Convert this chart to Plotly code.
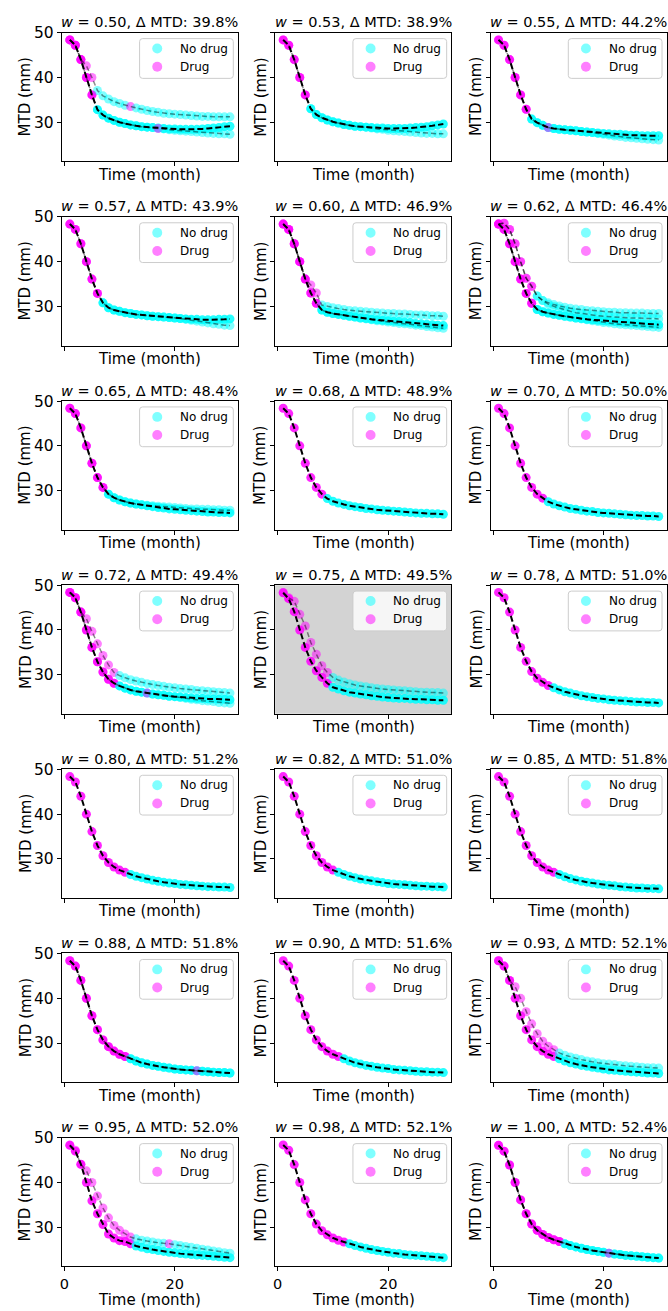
import plotly.graph_objects as go

# ---------------- data ----------------
W_VALUES = [0.50, 0.53, 0.55, 0.57, 0.60, 0.62, 0.65, 0.68, 0.70, 0.72, 0.75,
            0.78, 0.80, 0.82, 0.85, 0.88, 0.90, 0.93, 0.95, 0.98, 1.00]
DELTA_MTD = [39.8, 38.9, 44.2, 43.9, 46.9, 46.4, 48.4, 48.9, 50.0, 49.4, 49.5,
             51.0, 51.2, 51.0, 51.8, 51.8, 51.6, 52.1, 52.0, 52.1, 52.4]
MONTHS = list(range(1, 31))
HIGHLIGHT_W = 0.75
X_TICKS = [0, 20]
Y_TICKS = [30, 40, 50]
LEGEND_LABELS = ["No drug", "Drug"]

P = [48.4, 47.2, 44.0, 40.0, 36.1]

S01_MAIN = P + [32.8, 31.6, 30.9, 30.4, 30.0, 29.7, 29.4, 29.2, 29.0, 28.9, 28.8, 28.7, 28.6, 28.5, 28.5,
                28.4, 28.4, 28.4, 28.4, 28.5, 28.6, 28.7, 28.8, 29.0, 29.1]
S01_MAIN_DRUG = [1, 2, 3, 4, 5]
S01_ALT = [
    [48.4, 47.2, 44.0, 42.6, 40.0, 37.1, 35.9, 35.2, 34.6, 34.2, 33.8, 33.5, 33.2, 32.9, 32.6,
     32.4, 32.2, 32.0, 31.9, 31.8, 31.7, 31.6, 31.5, 31.4, 31.3, 31.3, 31.2, 31.2, 31.2, 31.2],
    P + [32.8, 31.6, 30.9, 30.4, 30.0, 29.7, 29.4, 29.2, 29.0, 28.9, 28.8, 28.6, 28.5, 28.3, 28.2,
         28.1, 28.0, 27.9, 27.8, 27.7, 27.6, 27.5, 27.4, 27.4, 27.3],
]
S01_ALT_DRUG = [[1, 2, 3, 4, 5, 12], [1, 2, 3, 4, 5, 17]]

S02_MAIN = P + [33.0, 31.7, 31.0, 30.5, 30.1, 29.8, 29.5, 29.3, 29.1, 29.0, 28.9, 28.8, 28.7, 28.7, 28.6,
                28.6, 28.6, 28.6, 28.7, 28.8, 28.9, 29.0, 29.2, 29.4, 29.6]
S02_MAIN_DRUG = [1, 2, 3, 4, 5]
S02_ALT = [
    P + [33.0, 31.7, 31.0, 30.5, 30.1, 29.8, 29.5, 29.3, 29.1, 29.0, 28.9, 28.7, 28.5, 28.4, 28.2,
         28.1, 28.0, 27.9, 27.8, 27.7, 27.6, 27.5, 27.5, 27.4, 27.4],
]
S02_ALT_DRUG = [[1, 2, 3, 4, 5]]

S03_MAIN = P + [32.9, 30.7, 29.9, 29.3, 28.8, 28.6, 28.4, 28.3, 28.2, 28.1, 27.9, 27.8, 27.7, 27.6, 27.5,
                27.4, 27.3, 27.3, 27.2, 27.1, 27.1, 27.0, 27.0, 27.0, 27.0]
S03_MAIN_DRUG = [1, 2, 3, 4, 5, 6]
S03_ALT = [
    P + [32.9, 30.7, 29.9, 29.3, 28.8, 28.6, 28.4, 28.3, 28.2, 28.1, 27.9, 27.8, 27.7, 27.5, 27.3,
         27.1, 26.9, 26.8, 26.6, 26.5, 26.4, 26.3, 26.2, 26.1, 26.0],
]
S03_ALT_DRUG = [[1, 2, 3, 4, 5, 6, 10]]

S04_MAIN = P + [32.9, 30.8, 29.7, 29.2, 28.9, 28.6, 28.4, 28.2, 28.1, 27.9, 27.8, 27.7, 27.6, 27.5, 27.4,
                27.3, 27.2, 27.1, 27.1, 27.0, 27.0, 27.0, 27.1, 27.1, 27.2]
S04_MAIN_DRUG = [1, 2, 3, 4, 5, 6]
S04_ALT = [
    P + [32.9, 30.8, 29.7, 29.2, 28.9, 28.6, 28.4, 28.2, 28.1, 27.9, 27.8, 27.7, 27.6, 27.5, 27.4,
         27.3, 27.1, 26.9, 26.7, 26.5, 26.3, 26.1, 26.0, 25.8, 25.7],
]
S04_ALT_DRUG = [[1, 2, 3, 4, 5, 6]]

S05_MAIN = P + [33.0, 30.7, 29.2, 28.7, 28.4, 28.2, 28.0, 27.8, 27.6, 27.4, 27.3, 27.1, 27.0, 26.9, 26.8,
                26.7, 26.6, 26.5, 26.4, 26.2, 26.1, 26.0, 25.9, 25.8, 25.7]
S05_MAIN_DRUG = [1, 2, 3, 4, 5, 6, 7]
S05_ALT = [
    P + [34.8, 33.0, 30.3, 30.0, 29.7, 29.5, 29.3, 29.1, 29.0, 28.9, 28.8, 28.7, 28.6, 28.5, 28.4,
         28.4, 28.3, 28.3, 28.2, 28.1, 28.1, 28.0, 27.9, 27.9, 27.8],
    P + [33.0, 30.7, 29.2, 28.7, 28.4, 28.2, 28.0, 27.8, 27.6, 27.4, 27.2, 27.0, 26.8, 26.7, 26.5,
         26.4, 26.2, 26.1, 26.0, 25.8, 25.7, 25.5, 25.4, 25.2, 25.1],
]
S05_ALT_DRUG = [[1, 2, 3, 4, 5, 6, 7], [1, 2, 3, 4, 5, 6, 7]]

S06_MAIN = P + [32.9, 30.7, 29.3, 28.8, 28.5, 28.2, 28.0, 27.8, 27.6, 27.4, 27.3, 27.1, 27.0, 26.9, 26.8,
                26.7, 26.6, 26.5, 26.4, 26.3, 26.2, 26.1, 26.0, 26.0, 25.9]
S06_MAIN_DRUG = [1, 2, 3, 4, 5, 6, 7]
S06_ALT = [
    [48.4, 48.6, 47.2, 44.0, 40.0, 36.3, 34.5, 32.3, 31.3, 30.8, 30.4, 30.1, 29.8, 29.6, 29.4,
     29.3, 29.1, 29.0, 28.9, 28.8, 28.7, 28.7, 28.6, 28.6, 28.5, 28.5, 28.5, 28.4, 28.4, 28.4],
    [48.4, 48.6, 47.2, 44.0, 40.0, 36.3, 34.5, 32.3, 31.3, 30.5, 30.0, 29.6, 29.2, 28.9, 28.6,
     28.4, 28.2, 28.0, 27.9, 27.8, 27.7, 27.6, 27.5, 27.5, 27.4, 27.4, 27.3, 27.3, 27.3, 27.2],
    P + [32.9, 30.7, 29.3, 28.8, 28.5, 28.2, 28.0, 27.8, 27.6, 27.4, 27.2, 27.0, 26.8, 26.6, 26.4,
         26.3, 26.1, 26.0, 25.9, 25.8, 25.7, 25.6, 25.5, 25.4, 25.3],
]
S06_ALT_DRUG = [[1, 2, 3, 4, 5, 6, 7], [1, 2, 3, 4, 5, 6, 7], [1, 2, 3, 4, 5, 6, 7]]

S07_MAIN = P + [32.9, 30.7, 29.2, 28.4, 27.9, 27.5, 27.2, 27.0, 26.8, 26.6, 26.4, 26.2, 26.1, 25.9, 25.8,
                25.7, 25.6, 25.5, 25.4, 25.3, 25.2, 25.2, 25.1, 25.1, 25.0]
S07_MAIN_DRUG = [1, 2, 3, 4, 5, 6, 7]
S07_ALT = [
    P + [32.9, 30.7, 29.2, 28.4, 27.9, 27.5, 27.2, 27.0, 26.8, 26.7, 26.6, 26.5, 26.4, 26.3, 26.2,
         26.1, 26.0, 25.9, 25.9, 25.8, 25.8, 25.7, 25.7, 25.6, 25.6],
]
S07_ALT_DRUG = [[1, 2, 3, 4, 5, 6, 7]]

S08_MAIN = P + [32.9, 30.7, 29.2, 28.2, 27.6, 27.2, 26.9, 26.6, 26.4, 26.2, 26.0, 25.9, 25.7, 25.6, 25.5,
                25.4, 25.3, 25.2, 25.1, 25.0, 24.9, 24.9, 24.8, 24.8, 24.7]
S08_MAIN_DRUG = [1, 2, 3, 4, 5, 6, 7, 8]
S08_ALT = []
S08_ALT_DRUG = []

S09_MAIN = P + [32.9, 30.7, 29.2, 28.3, 27.5, 27.0, 26.6, 26.3, 26.0, 25.8, 25.6, 25.4, 25.3, 25.1, 25.0,
                24.9, 24.8, 24.7, 24.6, 24.5, 24.4, 24.4, 24.3, 24.3, 24.2]
S09_MAIN_DRUG = [1, 2, 3, 4, 5, 6, 7, 8, 9]
S09_ALT = []
S09_ALT_DRUG = []

S10_MAIN = P + [32.9, 30.6, 29.0, 28.1, 27.5, 27.0, 26.6, 26.3, 26.1, 25.9, 25.7, 25.5, 25.4, 25.2, 25.1,
                25.0, 24.9, 24.8, 24.7, 24.7, 24.6, 24.6, 24.5, 24.5, 24.4]
S10_MAIN_DRUG = [1, 2, 3, 4, 5, 6, 7, 8, 9]
S10_ALT = [
    [48.4, 47.2, 44.0, 42.5, 39.7, 36.9, 34.3, 32.2, 30.5, 29.8, 29.3, 28.9, 28.6, 28.3, 28.0,
     27.8, 27.6, 27.4, 27.2, 27.1, 26.9, 26.8, 26.7, 26.5, 26.4, 26.3, 26.2, 26.1, 26.0, 25.9],
    P + [32.9, 30.6, 29.0, 28.1, 27.5, 27.0, 26.6, 26.3, 26.1, 25.9, 25.7, 25.5, 25.4, 25.2, 25.1,
         24.9, 24.7, 24.5, 24.4, 24.2, 24.1, 24.0, 23.8, 23.7, 23.6],
]
S10_ALT_DRUG = [[1, 2, 3, 4, 5, 6, 7, 8, 9], [1, 2, 3, 4, 5, 6, 7, 8, 9, 15]]

S11_MAIN = [48.3, 47.0, 44.1, 40.0, 36.1, 33.0, 30.9, 29.4, 28.1, 27.2, 26.8, 26.4, 26.1, 25.9, 25.7,
            25.5, 25.3, 25.2, 25.0, 24.9, 24.8, 24.7, 24.7, 24.6, 24.5, 24.5, 24.4, 24.4, 24.3, 24.3]
S11_MAIN_DRUG = [1, 2, 3, 4, 5, 6, 7, 8, 9]
S11_ALT = [
    [48.4, 47.2, 46.4, 43.5, 40.9, 37.2, 34.6, 32.0, 30.5, 29.4, 28.8, 28.4, 28.0, 27.7, 27.5,
     27.3, 27.1, 26.9, 26.8, 26.7, 26.6, 26.5, 26.4, 26.3, 26.2, 26.1, 26.1, 26.0, 26.0, 25.9],
]
S11_ALT_DRUG = [[1, 2, 3, 4, 5, 6, 7, 8, 9]]

S12_MAIN = P + [33.0, 30.7, 29.2, 28.3, 27.6, 27.1, 26.6, 26.2, 25.9, 25.6, 25.3, 25.1, 24.9, 24.7, 24.6,
                24.4, 24.3, 24.2, 24.1, 24.0, 23.9, 23.9, 23.8, 23.8, 23.7]
S12_MAIN_DRUG = [1, 2, 3, 4, 5, 6, 7, 8, 9, 10]
S12_ALT = []
S12_ALT_DRUG = []

S13_MAIN = P + [33.0, 30.7, 29.2, 28.2, 27.5, 27.0, 26.5, 26.1, 25.8, 25.5, 25.2, 25.0, 24.8, 24.6, 24.5,
                24.3, 24.2, 24.1, 24.0, 23.9, 23.8, 23.8, 23.7, 23.7, 23.6]
S13_MAIN_DRUG = [1, 2, 3, 4, 5, 6, 7, 8, 9, 10, 11]
S13_ALT = []
S13_ALT_DRUG = []

S14_MAIN = P + [33.0, 30.7, 29.2, 28.2, 27.5, 27.0, 26.5, 26.1, 25.8, 25.5, 25.3, 25.1, 24.9, 24.7, 24.5,
                24.4, 24.3, 24.2, 24.1, 24.0, 23.9, 23.9, 23.8, 23.8, 23.7]
S14_MAIN_DRUG = [1, 2, 3, 4, 5, 6, 7, 8, 9, 10]
S14_ALT = []
S14_ALT_DRUG = []

S15_MAIN = P + [33.0, 30.7, 29.2, 28.2, 27.5, 27.0, 26.5, 26.0, 25.6, 25.3, 25.0, 24.8, 24.6, 24.4, 24.2,
                24.1, 24.0, 23.8, 23.7, 23.6, 23.5, 23.5, 23.4, 23.4, 23.3]
S15_MAIN_DRUG = [1, 2, 3, 4, 5, 6, 7, 8, 9, 10, 11]
S15_ALT = []
S15_ALT_DRUG = []

S16_MAIN = P + [33.0, 30.7, 29.2, 28.2, 27.5, 27.0, 26.5, 26.0, 25.6, 25.3, 25.0, 24.8, 24.6, 24.4, 24.2,
                24.1, 24.0, 23.9, 23.8, 23.7, 23.6, 23.5, 23.4, 23.4, 23.3]
S16_MAIN_DRUG = [1, 2, 3, 4, 5, 6, 7, 8, 9, 10, 11]
S16_ALT = [S16_MAIN]
S16_ALT_DRUG = [[1, 2, 3, 4, 5, 6, 7, 8, 9, 10, 11, 24]]

S17_MAIN = P + [33.0, 30.7, 29.2, 28.2, 27.5, 27.0, 26.5, 26.0, 25.6, 25.3, 25.0, 24.8, 24.6, 24.4, 24.3,
                24.1, 24.0, 23.9, 23.8, 23.7, 23.6, 23.6, 23.5, 23.5, 23.4]
S17_MAIN_DRUG = [1, 2, 3, 4, 5, 6, 7, 8, 9, 10, 11]
S17_ALT = []
S17_ALT_DRUG = []

S18_MAIN = P + [33.0, 30.7, 29.2, 28.2, 27.5, 27.0, 26.5, 26.0, 25.6, 25.3, 25.0, 24.8, 24.6, 24.4, 24.2,
                24.0, 23.9, 23.8, 23.7, 23.6, 23.5, 23.4, 23.3, 23.3, 23.2]
S18_MAIN_DRUG = [1, 2, 3, 4, 5, 6, 7, 8, 9, 10, 11]
S18_ALT = [
    [48.4, 47.2, 44.0, 42.6, 40.0, 37.0, 34.3, 32.1, 30.4, 29.3, 28.5, 27.8, 27.3, 26.9, 26.6,
     26.3, 26.0, 25.8, 25.6, 25.4, 25.3, 25.2, 25.0, 24.9, 24.8, 24.7, 24.6, 24.5, 24.5, 24.4],
]
S18_ALT_DRUG = [[1, 2, 3, 4, 5, 6, 7, 8, 9, 10, 11]]

S19_MAIN = [48.3, 47.0, 44.1, 40.0, 35.9, 33.0, 30.6, 28.5, 27.6, 27.0, 26.8, 26.3, 25.8, 25.5, 25.2,
            25.0, 24.8, 24.6, 24.4, 24.3, 24.1, 24.0, 23.9, 23.8, 23.7, 23.6, 23.5, 23.4, 23.3, 23.2]
S19_MAIN_DRUG = [1, 2, 3, 4, 5, 6, 7, 8, 9, 10, 11, 12]
S19_ALT = [
    [48.4, 47.2, 44.0, 42.6, 40.0, 37.0, 34.3, 32.1, 30.4, 29.3, 28.5, 27.8, 27.4, 27.1, 26.9,
     26.7, 26.5, 26.4, 26.3, 26.1, 25.9, 25.7, 25.5, 25.3, 25.1, 24.9, 24.7, 24.5, 24.3, 24.2],
]
S19_ALT_DRUG = [[1, 2, 3, 4, 5, 6, 7, 8, 9, 10, 11, 12, 19]]

S20_MAIN = [48.4, 47.2, 44.0, 40.0, 36.1, 33.0, 30.7, 29.2, 28.3, 27.6, 27.1, 26.7, 26.3, 25.9, 25.6,
            25.3, 25.0, 24.8, 24.6, 24.4, 24.2, 24.1, 23.9, 23.8, 23.7, 23.6, 23.5, 23.4, 23.3, 23.2]
S20_MAIN_DRUG = [1, 2, 3, 4, 5, 6, 7, 8, 9, 10, 11, 12]
S20_ALT = []
S20_ALT_DRUG = []

S21_MAIN = [48.3, 47.0, 43.9, 40.0, 36.1, 33.0, 30.7, 29.3, 28.4, 27.7, 27.2, 26.8, 26.3, 25.9, 25.6,
            25.3, 25.0, 24.8, 24.6, 24.4, 24.2, 24.0, 23.9, 23.7, 23.6, 23.5, 23.4, 23.3, 23.2, 23.1]
S21_MAIN_DRUG = [1, 2, 3, 4, 5, 6, 7, 8, 9, 10, 11, 12]
S21_ALT = [S21_MAIN]
S21_ALT_DRUG = [[1, 2, 3, 4, 5, 6, 7, 8, 9, 10, 11, 12, 21]]

PANELS = [
    (S01_MAIN, S01_MAIN_DRUG, S01_ALT, S01_ALT_DRUG),
    (S02_MAIN, S02_MAIN_DRUG, S02_ALT, S02_ALT_DRUG),
    (S03_MAIN, S03_MAIN_DRUG, S03_ALT, S03_ALT_DRUG),
    (S04_MAIN, S04_MAIN_DRUG, S04_ALT, S04_ALT_DRUG),
    (S05_MAIN, S05_MAIN_DRUG, S05_ALT, S05_ALT_DRUG),
    (S06_MAIN, S06_MAIN_DRUG, S06_ALT, S06_ALT_DRUG),
    (S07_MAIN, S07_MAIN_DRUG, S07_ALT, S07_ALT_DRUG),
    (S08_MAIN, S08_MAIN_DRUG, S08_ALT, S08_ALT_DRUG),
    (S09_MAIN, S09_MAIN_DRUG, S09_ALT, S09_ALT_DRUG),
    (S10_MAIN, S10_MAIN_DRUG, S10_ALT, S10_ALT_DRUG),
    (S11_MAIN, S11_MAIN_DRUG, S11_ALT, S11_ALT_DRUG),
    (S12_MAIN, S12_MAIN_DRUG, S12_ALT, S12_ALT_DRUG),
    (S13_MAIN, S13_MAIN_DRUG, S13_ALT, S13_ALT_DRUG),
    (S14_MAIN, S14_MAIN_DRUG, S14_ALT, S14_ALT_DRUG),
    (S15_MAIN, S15_MAIN_DRUG, S15_ALT, S15_ALT_DRUG),
    (S16_MAIN, S16_MAIN_DRUG, S16_ALT, S16_ALT_DRUG),
    (S17_MAIN, S17_MAIN_DRUG, S17_ALT, S17_ALT_DRUG),
    (S18_MAIN, S18_MAIN_DRUG, S18_ALT, S18_ALT_DRUG),
    (S19_MAIN, S19_MAIN_DRUG, S19_ALT, S19_ALT_DRUG),
    (S20_MAIN, S20_MAIN_DRUG, S20_ALT, S20_ALT_DRUG),
    (S21_MAIN, S21_MAIN_DRUG, S21_ALT, S21_ALT_DRUG),
]

# ---------------- layout geometry (pixels) ----------------
FIG_W, FIG_H = 668, 1311
COL_LEFT = [60.0, 274.0, 490.0]
AX_W = 176.7
ROW_BOTTOM0, ROW_PITCH, AX_H = 154.3, 185.3, 129.5
FONT = "DejaVu Sans"

CYAN_MAIN, MAG_MAIN = "rgba(0,255,255,0.85)", "rgba(255,0,255,0.85)"
CYAN_ALT, MAG_ALT = "rgba(0,255,255,0.5)", "rgba(255,0,255,0.5)"
LEGEND_COLORS = [CYAN_ALT, MAG_ALT]

fig = go.Figure()
layout = dict(width=FIG_W, height=FIG_H, margin=dict(l=0, r=0, t=0, b=0),
              paper_bgcolor="white", plot_bgcolor="white", showlegend=False,
              font=dict(family=FONT, color="black"))
annotations, shapes = [], []


def px_x(v):
    return v / FIG_W


def px_y(v):
    return 1 - v / FIG_H


def rounded_box_path(x0, y0, x1, y1, rad):
    def p(x, y):
        return f"{px_x(x):.6f},{px_y(y):.6f}"
    return " ".join([
        f"M {p(x0 + rad, y0)}", f"L {p(x1 - rad, y0)}", f"Q {p(x1, y0)} {p(x1, y0 + rad)}",
        f"L {p(x1, y1 - rad)}", f"Q {p(x1, y1)} {p(x1 - rad, y1)}", f"L {p(x0 + rad, y1)}",
        f"Q {p(x0, y1)} {p(x0, y1 - rad)}", f"L {p(x0, y0 + rad)}",
        f"Q {p(x0, y0)} {p(x0 + rad, y0)} Z"])


for i, (main, main_drug, alts, alt_drugs) in enumerate(PANELS):
    n = i + 1
    r, c = divmod(i, 3)
    left = COL_LEFT[c]
    right = left + AX_W
    bottom = ROW_BOTTOM0 + r * ROW_PITCH
    top = bottom - AX_H
    xa = "x" if n == 1 else f"x{n}"
    ya = "y" if n == 1 else f"y{n}"

    # markers: main first, then alternatives
    fig.add_trace(go.Scatter(
        x=MONTHS, y=main, mode="markers", xaxis=xa, yaxis=ya, hoverinfo="skip",
        marker=dict(size=9, line=dict(width=0),
                    color=[MAG_MAIN if m in main_drug else CYAN_MAIN for m in MONTHS])))
    for vals, drug in zip(alts, alt_drugs):
        fig.add_trace(go.Scatter(
            x=MONTHS, y=vals, mode="markers", xaxis=xa, yaxis=ya, hoverinfo="skip",
            marker=dict(size=9, line=dict(width=0),
                        color=[MAG_ALT if m in drug else CYAN_ALT for m in MONTHS])))
    # dashed lines drawn on top of the markers
    for vals in alts:
        fig.add_trace(go.Scatter(
            x=MONTHS, y=vals, mode="lines", xaxis=xa, yaxis=ya, hoverinfo="skip",
            line=dict(color="rgba(0,0,0,0.45)", width=1.5, dash="5px,3px")))
    fig.add_trace(go.Scatter(
        x=MONTHS, y=main, mode="lines", xaxis=xa, yaxis=ya, hoverinfo="skip",
        line=dict(color="black", width=2, dash="6px,3px")))

    layout[("xaxis" if n == 1 else f"xaxis{n}")] = dict(
        domain=[px_x(left), px_x(right)], anchor=ya, range=[-0.45, 31.45],
        tickvals=X_TICKS, ticks="outside", ticklen=4, tickwidth=1, tickcolor="black",
        showticklabels=(r == 6), tickfont=dict(size=14.5, family=FONT),
        showline=True, mirror=True, linecolor="black", linewidth=1,
        showgrid=False, zeroline=False, fixedrange=True)
    layout[("yaxis" if n == 1 else f"yaxis{n}")] = dict(
        domain=[px_y(bottom), px_y(top)], anchor=xa, range=[21.25, 50.02],
        tickvals=Y_TICKS, ticks="outside", ticklen=4, tickwidth=1, tickcolor="black",
        showticklabels=(c == 0), tickfont=dict(size=15.5, family=FONT),
        showline=True, mirror=True, linecolor="black", linewidth=1,
        showgrid=False, zeroline=False, fixedrange=True)

    if abs(W_VALUES[i] - HIGHLIGHT_W) < 1e-9:
        shapes.append(dict(type="rect", xref=f"{xa} domain", yref=f"{ya} domain",
                           x0=0, x1=1, y0=0, y1=1, fillcolor="#d3d3d3",
                           line=dict(width=0), layer="below"))

    # legend box (upper right of each panel)
    bx1, bx0 = right - 4.7, right - 98.7
    by0, by1 = top + 6, top + 46
    shapes.append(dict(type="path", xref="paper", yref="paper",
                       path=rounded_box_path(bx0, by0, bx1, by1, 3),
                       fillcolor="rgba(255,255,255,0.8)", line=dict(color="#cccccc", width=1),
                       layer="above"))
    for k, (lab, col) in enumerate(zip(LEGEND_LABELS, LEGEND_COLORS)):
        cy = top + 16 + 18.3 * k
        mx = bx0 + 17.7
        shapes.append(dict(type="circle", xref="paper", yref="paper",
                           x0=px_x(mx - 5), x1=px_x(mx + 5), y0=px_y(cy + 5), y1=px_y(cy - 5),
                           fillcolor=col, line=dict(width=0), layer="above"))
        annotations.append(dict(text=lab, x=px_x(bx0 + 38.5), y=px_y(cy), xref="paper", yref="paper",
                                xanchor="left", yanchor="middle", showarrow=False,
                                font=dict(size=12, family=FONT, color="black")))

    cx = (left + right) / 2
    annotations.append(dict(
        text=f"<i>w</i> = {W_VALUES[i]:.2f}, \u0394 MTD: {DELTA_MTD[i]:.1f}%",
        x=px_x(cx), y=px_y(top - 10.5), xref="paper", yref="paper",
        xanchor="center", yanchor="middle", showarrow=False,
        font=dict(size=14.5, family=FONT, color="black")))
    annotations.append(dict(
        text="MTD (mm)", textangle=-90,
        x=px_x(left - (36.5 if c == 0 else 14.5)), y=px_y((top + bottom) / 2),
        xref="paper", yref="paper", xanchor="center", yanchor="middle", showarrow=False,
        font=dict(size=15, family=FONT, color="black")))
    annotations.append(dict(
        text="Time (month)",
        x=px_x(cx), y=px_y(bottom + (33.5 if r == 6 else 13.5)),
        xref="paper", yref="paper", xanchor="center", yanchor="middle", showarrow=False,
        font=dict(size=15, family=FONT, color="black")))

layout["annotations"] = annotations
layout["shapes"] = shapes
fig.update_layout(**layout)
fig.write_html("out.html", config={"displayModeBar": False},
               post_script="document.body.style.margin='0';document.body.style.overflow='hidden';")
